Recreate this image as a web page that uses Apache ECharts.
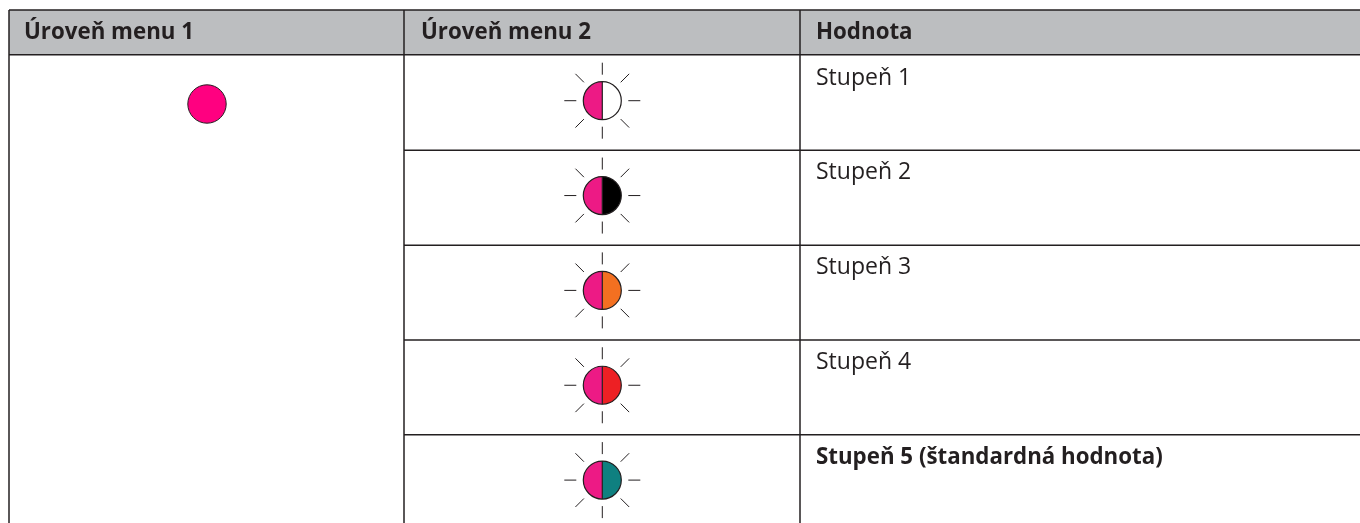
<!DOCTYPE html>
<html><head><meta charset="utf-8">
<style>html,body{margin:0;padding:0;background:#fff}#c{width:1360px;height:523px}</style>
<script src="https://cdn.jsdelivr.net/npm/echarts@6/dist/echarts.min.js"></script>
</head><body><div id="c"></div>
<script>
const headers = ['Úroveň menu 1', 'Úroveň menu 2', 'Hodnota'];
const rowLabels = ['Stupeň 1', 'Stupeň 2', 'Stupeň 3', 'Stupeň 4', 'Stupeň 5 (štandardná hodnota)'];
const boldRows = [false, false, false, false, true];
const rightHalfColors = ['#ffffff', '#000000', '#f37021', '#ed2024', '#0f8080'];
const rows = [0, 1, 2, 3, 4];

const FONT = '"Open Sans","Noto Sans",sans-serif', INK = '#231f20';
const X = {left: 9, c1: 404, c2: 800, right: 1360, led: 602.3, lvl1: 207, text0: 24, text1: 421, text2: 816};
const Y = {top: 10, head: 54.7, row0: 100.7, rowH: 94.85, line0: 150.3, bottom: 523};

function line(api, a, b, c, d, w) {
  const p = api.coord([a, b]), q = api.coord([c, d]);
  return {type: 'line', shape: {x1: p[0], y1: p[1], x2: q[0], y2: q[1]}, style: {stroke: INK, lineWidth: w || 1.5}};
}
function txt(api, s, x, y, bold, size) {
  const p = api.coord([x, y]);
  return {type: 'text', x: p[0], y: p[1], style: {text: s, fill: INK, font: (bold ? 'bold ' : '') + size + 'px ' + FONT, textAlign: 'left', textVerticalAlign: 'middle'}};
}
const frame = (params, api) => {
  const p = api.coord([0, Y.top]), q = api.coord([X.right, Y.head]);
  const ch = [
    {type: 'rect', shape: {x: X.left, y: p[1], width: q[0] - X.left, height: q[1] - p[1]}, style: {fill: '#bcbec0'}},
    line(api, X.left, Y.top, X.right, Y.top),
    line(api, X.left, Y.head, X.right, Y.head),
    line(api, X.left, Y.top, X.left, Y.bottom),
    line(api, X.c1, Y.top, X.c1, Y.bottom),
    line(api, X.c2, Y.top, X.c2, Y.bottom),
    txt(api, headers[0], X.text0, 32.5, true, 22.3),
    txt(api, headers[1], X.text1, 32.5, true, 22.3),
    txt(api, headers[2], X.text2, 32.5, true, 22.3)
  ];
  const c = api.coord([X.lvl1, 104]);
  ch.push({type: 'circle', shape: {cx: c[0], cy: c[1], r: 19.2}, style: {fill: '#ff0080', stroke: INK, lineWidth: 1}});
  return {type: 'group', children: ch};
};
const rowItem = (params, api) => {
  const i = api.value(0), cy = Y.row0 + i * Y.rowH, c = api.coord([X.led, cy]), r = 19, ch = [];
  if (i < 4) ch.push(line(api, X.c1, Y.line0 + i * Y.rowH, X.right, Y.line0 + i * Y.rowH));
  ch.push({type: 'sector', shape: {cx: c[0], cy: c[1], r0: 0, r, startAngle: Math.PI / 2, endAngle: Math.PI * 1.5}, style: {fill: '#ed1a85'}});
  ch.push({type: 'sector', shape: {cx: c[0], cy: c[1], r0: 0, r, startAngle: -Math.PI / 2, endAngle: Math.PI / 2}, style: {fill: rightHalfColors[i]}});
  ch.push({type: 'circle', shape: {cx: c[0], cy: c[1], r}, style: {fill: 'none', stroke: INK, lineWidth: 1.2}});
  ch.push({type: 'line', shape: {x1: c[0], y1: c[1] - r, x2: c[0], y2: c[1] + r}, style: {stroke: INK, lineWidth: 1.2}});
  for (let k = 0; k < 8; k++) {
    const a = k * Math.PI / 4, s = Math.cos(a), n = Math.sin(a);
    ch.push({type: 'line', shape: {x1: c[0] + 26 * s, y1: c[1] + 26 * n, x2: c[0] + 38 * s, y2: c[1] + 38 * n}, style: {stroke: INK, lineWidth: 1}});
  }
  ch.push(txt(api, rowLabels[i], X.text2, 78 + i * Y.rowH, boldRows[i], boldRows[i] ? 22.3 : 23));
  return {type: 'group', children: ch};
};
const chart = echarts.init(document.getElementById('c'), null, {renderer: 'canvas'});
chart.setOption({
  animation: false,
  grid: {left: 0, right: 0, top: 0, bottom: 0},
  xAxis: {type: 'value', min: 0, max: 1360, show: false},
  yAxis: {type: 'value', min: 0, max: 523, inverse: true, show: false},
  series: [
    {type: 'custom', renderItem: frame, data: [[0]], clip: true, silent: true},
    {type: 'custom', renderItem: rowItem, data: rows.map(i => [i]), clip: true, silent: true}
  ]
});
</script></body></html>
